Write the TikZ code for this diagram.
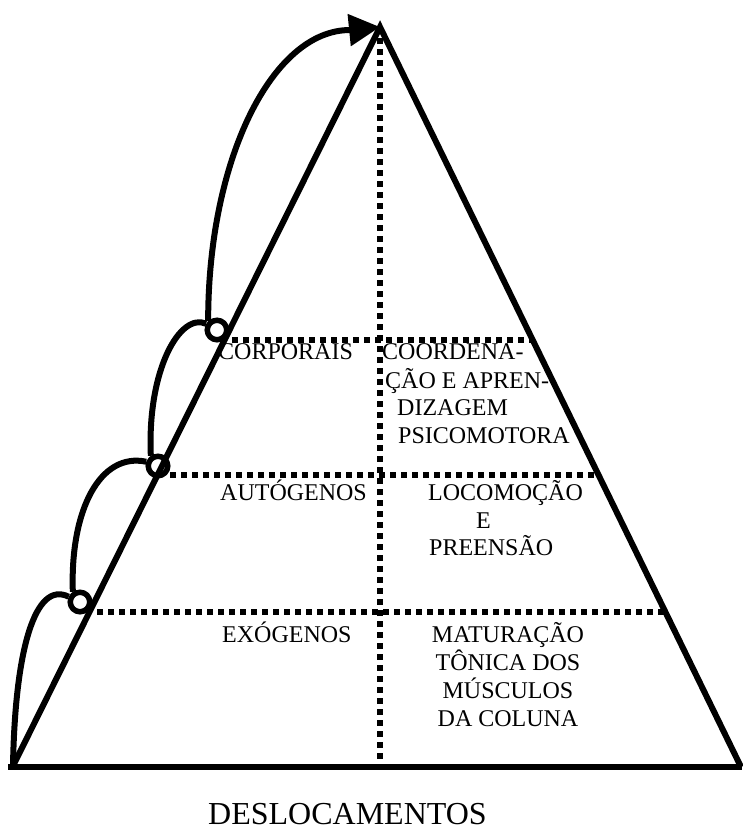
\documentclass[tikz,border=0pt]{standalone}
\usepackage{fontspec}
\setmainfont{Liberation Serif}
\usetikzlibrary{arrows.meta,backgrounds}
\begin{document}
\begin{tikzpicture}[x=1pt,y=-1pt,
  edge/.style={line width=6pt, line join=miter},
  dots/.style={line width=5.5pt, dash pattern=on 5.5pt off 5.5pt},
  curve/.style={line width=6pt},
  ring/.style={circle, draw, line width=5.5pt, fill=white, minimum size=19.5pt, inner sep=0pt},
  lbl/.style={inner sep=0pt, anchor=base west, font=\fontsize{24}{28}\selectfont},
  clbl/.style={inner sep=0pt, anchor=base, font=\fontsize{24}{28}\selectfont},
]
\useasboundingbox (0,0) rectangle (742,830);

% key points
\coordinate (apex) at (380,27);
\coordinate (bl) at (13,766);
\coordinate (br) at (741,767);
\coordinate (b0) at (8,767);
\coordinate (b1) at (742,767);
\coordinate (vtop) at (380,38);
\coordinate (vbot) at (380,765);
\coordinate (h1l) at (232,340);
\coordinate (h1r) at (533,340);
\coordinate (h2l) at (170,475);
\coordinate (h2r) at (599,475);
\coordinate (h3l) at (97,612);
\coordinate (h3r) at (666,612);
\coordinate (a4) at (350,30);

% dotted lines
\draw[dots] (vtop) -- (vbot);
\draw[dots] (h1l) -- (h1r);
\draw[dots] (h2l) -- (h2r);
\draw[dots] (h3l) -- (h3r);

% circles
\node[ring] (c1) at (80,602) {};
\node[ring] (c2) at (158,466) {};
\node[ring] (c3) at (217,330) {};

% triangle
\draw[edge] (bl) -- (apex) -- (br);
\draw[edge] (b0) -- (b1);

% curves behind the circles
\begin{scope}[on background layer]
\draw[curve] (bl) .. controls (15,650) and (35,580) .. (c1.155);
\draw[curve] (c1.125) .. controls (70,510) and (100,452) .. (c2.160);
\draw[curve] (c2.125) .. controls (147,370) and (180,312) .. (c3.150);
\draw[curve,-{Triangle[length=31pt,width=31pt]}] (c3.135) .. controls (208,160) and (272,30) .. (a4) -- (apex);
\end{scope}

% labels
\node[lbl] (corp) at (218,359) {CORPORAIS};
\node[lbl] (coord1) at (382,359) {COORDENA-};
\node[lbl] (coord2) at (385,388) {ÇÃO E APREN-};
\node[lbl] (coord3) at (397,415) {DIZAGEM};
\node[lbl] (coord4) at (398,443) {PSICOMOTORA};
\node[lbl] (auto) at (220,500) {AUTÓGENOS};
\node[lbl] (loco1) at (428,500) {LOCOMOÇÃO};
\node[lbl] (loco2) at (476,528) {E};
\node[lbl] (loco3) at (429,555) {PREENSÃO};
\node[lbl] (exo) at (222,642) {EXÓGENOS};
\node[clbl] (mat1) at (508,642) {MATURAÇÃO};
\node[clbl] (mat2) at (508,670) {TÔNICA DOS};
\node[clbl] (mat3) at (508,698) {MÚSCULOS};
\node[clbl] (mat4) at (508,726) {DA COLUNA};
\node[inner sep=0pt, anchor=base west, font=\fontsize{32}{36}\selectfont] (desl) at (208,824) {DESLOCAMENTOS};
\end{tikzpicture}
\end{document}
